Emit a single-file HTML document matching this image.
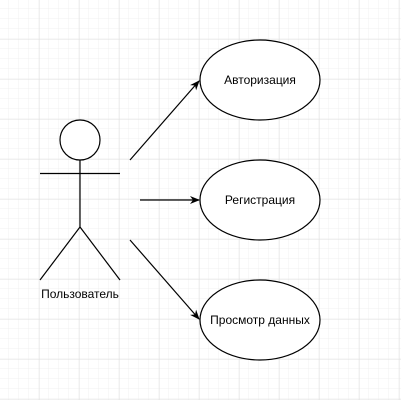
<!DOCTYPE html>
<html><head><meta charset="utf-8"><style>
html,body{margin:0;padding:0;background:#fff}
svg{display:block}
text{font-family:"Liberation Sans",Arial,sans-serif;font-size:12px;fill:#000}
</style></head><body>
<svg width="401" height="400" xmlns="http://www.w3.org/2000/svg">
<defs>
<pattern id="m" width="10" height="10" patternUnits="userSpaceOnUse" x="-0.5" y="-0.5">
<path d="M10 0V10M0 10H10" stroke="#f0f0f0" stroke-width="1" fill="none"/>
</pattern>
<pattern id="M" width="40" height="40" patternUnits="userSpaceOnUse" x="-0.5" y="-0.5">
<rect width="40" height="40" fill="url(#m)"/>
<path d="M40 0V40M0 40H40" stroke="#e0e0e0" stroke-width="1" fill="none"/>
</pattern>
<marker id="a" markerWidth="10" markerHeight="10" refX="9" refY="5" orient="auto" markerUnits="userSpaceOnUse">
<path d="M0 1L10 5L0 9L3 5Z" fill="#000"/>
</marker>
</defs>
<rect width="401" height="400" fill="url(#M)"/>
<g stroke="#000" fill="none" stroke-width="1.2">
<circle cx="80" cy="140" r="20" fill="#fff"/>
<line x1="80" y1="160" x2="80" y2="227"/>
<line x1="40" y1="173.5" x2="120" y2="173.5"/>
<line x1="80" y1="227" x2="40" y2="280"/>
<line x1="80" y1="227" x2="120" y2="280"/>
<ellipse cx="260" cy="80" rx="60" ry="40" fill="#fff"/>
<ellipse cx="260" cy="200" rx="60" ry="40" fill="#fff"/>
<ellipse cx="260" cy="320" rx="60" ry="40" fill="#fff"/>
<line x1="130" y1="160" x2="199" y2="81" marker-end="url(#a)"/>
<line x1="140" y1="200" x2="199" y2="200" marker-end="url(#a)"/>
<line x1="130" y1="240" x2="199" y2="319" marker-end="url(#a)"/>
</g>
<text x="80" y="298" text-anchor="middle">Пользователь</text>
<text x="260" y="84" text-anchor="middle">Авторизация</text>
<text x="260" y="204" text-anchor="middle">Регистрация</text>
<text x="260" y="324" text-anchor="middle">Просмотр данных</text>
</svg>
</body></html>
